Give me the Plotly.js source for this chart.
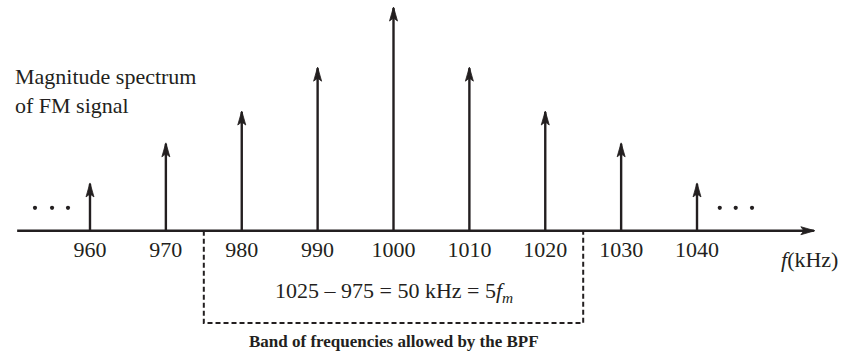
<!DOCTYPE html>
<html>
<head>
<meta charset="utf-8">
<script src="https://cdn.plot.ly/plotly-3.0.1.min.js"></script>
<style>html,body{margin:0;padding:0;background:#fff;}#chart{width:843px;height:364px;}</style>
</head>
<body>
<div id="chart"></div>
<script>
// ---- data ----
const freqs = [960, 970, 980, 990, 1000, 1010, 1020, 1030, 1040];
const mags = [0.21, 0.39, 0.533, 0.73, 1.0, 0.73, 0.533, 0.39, 0.21];
const tickLabels = ['960', '970', '980', '990', '1000', '1010', '1020', '1030', '1040'];
const bpfLow = 975;
const bpfHigh = 1025;
const axisStart = 950.4;
const axisEnd = 1055.4;
// ellipsis dots ("...") on both sides of the spectrum
const dotsX = [952.75, 955.0, 957.1, 1043.0, 1045.1, 1047.25];
const dotsY = [0.103, 0.103, 0.103, 0.103, 0.103, 0.103];

const ink = '#231f20';
const FONT = 'Liberation Serif, Times New Roman, serif';
const xRange = [948.14, 1059.24];
const yRange = [-0.5985, 1.036];
const zeroPos = (0 - yRange[0]) / (yRange[1] - yRange[0]);

// stems built from the data arrays
const stemX = [], stemY = [];
freqs.forEach((f, i) => { stemX.push(f, f, null); stemY.push(0, mags[i], null); });

const traces = [
  {x: [axisStart, axisEnd], y: [0, 0], type: 'scatter', mode: 'lines',
   line: {color: ink, width: 2.4}, hoverinfo: 'skip', cliponaxis: false},
  {x: stemX, y: stemY, type: 'scatter', mode: 'lines',
   line: {color: ink, width: 2.4}, hoverinfo: 'skip', cliponaxis: false},
  {x: dotsX, y: dotsY, type: 'scatter', mode: 'markers',
   marker: {color: ink, size: 4.2, line: {width: 0}}, hoverinfo: 'skip', cliponaxis: false}
];

const shapes = [];
// arrowheads (pixel sized, anchored at tips)
freqs.forEach((f, i) => {
  shapes.push({
    type: 'path', xref: 'x', yref: 'y', xsizemode: 'pixel', ysizemode: 'pixel',
    xanchor: f, yanchor: mags[i],
    path: 'M0,1 L-4,-13 L0,-10 L4,-13 Z',
    fillcolor: ink, line: {color: ink, width: 0.8}, layer: 'above'
  });
});
shapes.push({
  type: 'path', xref: 'x', yref: 'y', xsizemode: 'pixel', ysizemode: 'pixel',
  xanchor: axisEnd, yanchor: 0,
  path: 'M1,0 L-13,4 L-10,0 L-13,-4 Z',
  fillcolor: ink, line: {color: ink, width: 0.8}, layer: 'above'
});
// BPF dashed box
shapes.push({
  type: 'path', xref: 'x', yref: 'y',
  path: `M ${bpfLow},0 L ${bpfLow},-0.4145 L ${bpfHigh},-0.4145 L ${bpfHigh},0`,
  line: {color: ink, width: 2, dash: '5px,3px'}
});

const annotations = [
  {x: 949.85, y: 0.627, xref: 'x', yref: 'y', xanchor: 'left', yanchor: 'middle', align: 'left',
   text: 'Magnitude spectrum<br>of FM signal', showarrow: false,
   font: {family: FONT, size: 22, color: ink}},
  {x: 1058.85, y: -0.127, xref: 'x', yref: 'y', xanchor: 'right', yanchor: 'middle',
   text: '<i>f</i>(kHz)', showarrow: false,
   font: {family: FONT, size: 22, color: ink}},
  {x: (bpfLow + bpfHigh) / 2, y: -0.275, xref: 'x', yref: 'y', xanchor: 'center', yanchor: 'middle',
   text: '1025 – 975 = 50 kHz = 5<i>f</i><sub><i>m</i></sub>', showarrow: false,
   font: {family: FONT, size: 22, color: ink}},
  {x: (bpfLow + bpfHigh) / 2, y: -0.496, xref: 'x', yref: 'y', xanchor: 'center', yanchor: 'middle',
   text: '<b>Band of frequencies allowed by the BPF</b>', showarrow: false,
   font: {family: FONT, size: 17, color: ink}}
];

const layout = {
  width: 843, height: 364,
  margin: {l: 0, r: 0, t: 0, b: 0},
  paper_bgcolor: '#ffffff', plot_bgcolor: '#ffffff',
  showlegend: false,
  xaxis: {
    range: xRange, showgrid: false, zeroline: false, showline: false,
    tickmode: 'array', tickvals: freqs, ticktext: tickLabels, ticks: '',
    anchor: 'free', position: zeroPos, side: 'bottom',
    tickfont: {family: FONT, size: 22, color: ink},
    ticklabelstandoff: 3, fixedrange: true
  },
  yaxis: {range: yRange, visible: false, showgrid: false, zeroline: false, fixedrange: true},
  annotations: annotations,
  shapes: shapes
};

Plotly.newPlot('chart', traces, layout, {staticPlot: true, displayModeBar: false});
</script>
</body>
</html>
